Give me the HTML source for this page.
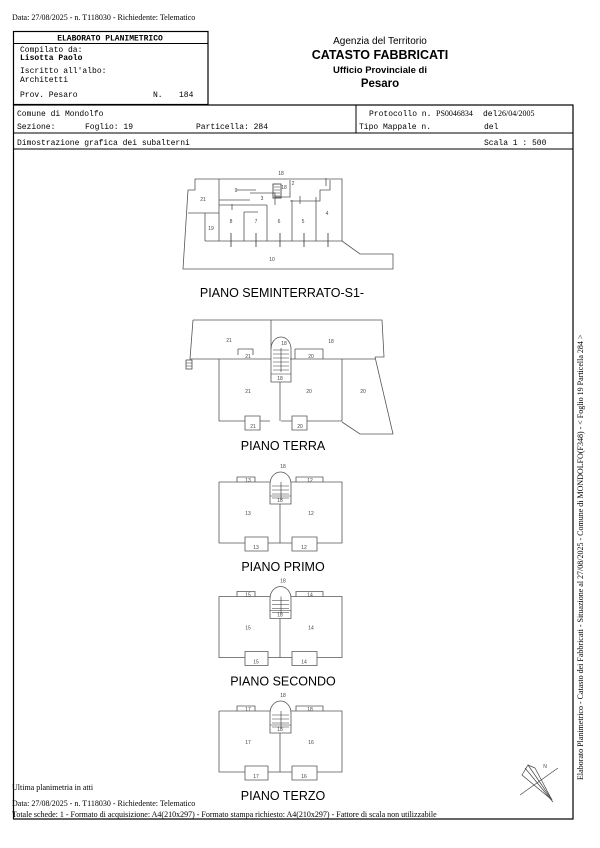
<!DOCTYPE html>
<html><head><meta charset="utf-8"><style>
html,body{margin:0;padding:0;background:#fff;}
svg{display:block}
.m{font-family:"Liberation Mono",monospace;font-size:8px;fill:#000}
.s{font-family:"Liberation Serif",serif;font-size:8px;fill:#000}
.a{font-family:"Liberation Sans",sans-serif;fill:#000}
.n{font-family:"Liberation Sans",sans-serif;font-size:5px;fill:#444;text-anchor:middle}
.p{fill:none;stroke:#555;stroke-width:0.8}
.l{font-family:"Liberation Sans",sans-serif;font-size:12.5px;fill:#000;text-anchor:middle}
</style></head><body>
<svg width="600" height="848" viewBox="0 0 600 848" xmlns="http://www.w3.org/2000/svg">
<text class="s" x="12" y="20">Data: 27/08/2025 - n. T118030 - Richiedente: Telematico</text>
<!-- header box -->
<rect x="13.5" y="31.5" width="194.5" height="73" fill="none" stroke="#000" stroke-width="1.2"/>
<line x1="13.5" y1="43.5" x2="208" y2="43.5" stroke="#000" stroke-width="1"/>
<text class="m" x="110" y="40.5" text-anchor="middle" font-weight="bold">ELABORATO PLANIMETRICO</text>
<text class="m" x="20" y="52">Compilato da:</text>
<text class="m" x="20" y="60" font-weight="bold">Lisotta Paolo</text>
<text class="m" x="20" y="73">Iscritto all'albo:</text>
<text class="m" x="20" y="82">Architetti</text>
<text class="m" x="20" y="97">Prov. Pesaro</text>
<text class="m" x="153" y="97">N.</text>
<text class="m" x="179" y="97">184</text>
<text class="a" x="380" y="44" font-size="10" text-anchor="middle">Agenzia del Territorio</text>
<text class="a" x="380" y="59" font-size="12.5" font-weight="bold" text-anchor="middle">CATASTO FABBRICATI</text>
<text class="a" x="380" y="73" font-size="9.5" font-weight="bold" text-anchor="middle">Ufficio Provinciale di</text>
<text class="a" x="380" y="87" font-size="11.5" font-weight="bold" text-anchor="middle">Pesaro</text>
<!-- main frame -->
<rect x="13.5" y="105" width="559.5" height="714" fill="none" stroke="#000" stroke-width="1.2"/>
<line x1="13.5" y1="133" x2="573" y2="133" stroke="#000"/>
<line x1="13.5" y1="149" x2="573" y2="149" stroke="#000"/>
<line x1="356" y1="105" x2="356" y2="133" stroke="#000"/>
<text class="m" x="17" y="116">Comune di Mondolfo</text>
<text class="m" x="17" y="129">Sezione:</text>
<text class="m" x="85" y="129">Foglio: 19</text>
<text class="m" x="196" y="129">Particella: 284</text>
<text class="m" x="369" y="116">Protocollo n.</text>
<text class="s" x="436" y="116">PS0046834</text>
<text class="m" x="483" y="116">del</text>
<text class="s" x="498" y="116">26/04/2005</text>
<text class="m" x="359" y="129">Tipo Mappale n.</text>
<text class="m" x="484" y="129">del</text>
<text class="m" x="17" y="145">Dimostrazione grafica dei subalterni</text>
<text class="m" x="484" y="145">Scala 1 : 500</text>

<!-- Seminterrato -->
<g>
<path class="p" d="M195,179 H342 V241 L360,254 H393 V269 H183 L188,190 H195 Z"/>
<path class="p" d="M205,241 H342 M205,241 V213 M188,213 H219 M219,179 V241 M244,212 V241 M267,205 V241 M292,200 V241 M316,197 V241 M219,205 H267 M244,212 H258 M219,200 H250 M250,193 H275 V205 M275,197 H290 V180 M290,201 H320 V190 H330 V180 M232,204 V210 M300,196 V204 M326,178 V186 M237,190 H256"/>
<rect x="273" y="184" width="8" height="14" fill="none" stroke="#333" stroke-width="0.8"/>
<path d="M274,187 H280 M274,190 H280 M274,193 H280 M274,196 H280" stroke="#333" stroke-width="0.6"/>
<line x1="231" y1="233" x2="231" y2="247" stroke="#333" stroke-width="0.8"/>
<line x1="256" y1="233" x2="256" y2="247" stroke="#333" stroke-width="0.8"/>
<line x1="280" y1="233" x2="280" y2="247" stroke="#333" stroke-width="0.8"/>
<line x1="304" y1="233" x2="304" y2="247" stroke="#333" stroke-width="0.8"/>
<line x1="328" y1="233" x2="328" y2="247" stroke="#333" stroke-width="0.8"/>
<text class="n" x="203" y="201">21</text><text class="n" x="236" y="192">9</text>
<text class="n" x="211" y="230">19</text><text class="n" x="231" y="223">8</text>
<text class="n" x="256" y="223">7</text><text class="n" x="279" y="223">6</text>
<text class="n" x="303" y="223">5</text><text class="n" x="327" y="215">4</text>
<text class="n" x="284" y="189">18</text><text class="n" x="293" y="185">2</text>
<text class="n" x="281" y="175">18</text><text class="n" x="262" y="200">3</text>
<text class="n" x="272" y="261">10</text>
<text class="l" x="282" y="297">PIANO SEMINTERRATO-S1-</text>
</g>

<!-- Piano terra -->
<g>
<path class="p" d="M193,320 H382 L384,357 H375 M193,320 L190,359 H271 M290,359 H375 M271,320 V349 M375,357 L393,434 H360 L342,422"/>
<path class="p" d="M219,359 V421 H245 M260,421 H270 M281,421 H292 M307,421 H342 V359 M280,382 V421 M238,349 H253 V355 M238,349 V355 M295,349 H323 V359 M295,349 V359"/>
<path class="p" d="M245,416 H260 V430 H245 Z M292,416 H307 V430 H292 Z"/>
<path class="p" d="M271,382 V349 A10,12 0 0 1 291,349 V382 Z"/>
<path d="M273,350 H289 M273,354 H289 M273,358 H289 M273,362 H289 M273,366 H289 M273,370 H289 M281,348 V372 M271,374 H291" stroke="#333" stroke-width="0.6"/>
<rect x="186" y="360" width="6" height="9" fill="none" stroke="#333" stroke-width="0.7"/>
<path d="M186,363 H192 M186,366 H192" stroke="#333" stroke-width="0.5"/>
<text class="n" x="229" y="342">21</text><text class="n" x="331" y="343">18</text>
<text class="n" x="248" y="358">21</text><text class="n" x="311" y="358">20</text>
<text class="n" x="284" y="345">18</text><text class="n" x="280" y="380">18</text>
<text class="n" x="248" y="393">21</text><text class="n" x="309" y="393">20</text>
<text class="n" x="363" y="393">20</text>
<text class="n" x="253" y="428">21</text><text class="n" x="300" y="428">20</text>
<text class="l" x="283" y="450">PIANO TERRA</text>
</g>

<!-- upper floor template: Piano primo at dy=0 -->
<defs></defs>
<g id="f1">
<path class="p" d="M219,482 H270 M291,482 H342 V543 H317 M292,543 H268 M245,543 H219 V482 M280,504 V543"/>
<path class="p" d="M237,482 V477 H255 V482 M296,482 V477 H323 V482 M245,537 H268 V551 H245 Z M292,537 H317 V551 H292 Z"/>
<path class="p" d="M270,504 V484 A10.5,12 0 0 1 291,484 V504 Z"/>
<path d="M272,486 H289 M272,490 H289 M272,494 H289 M272,498 H289 M281,482 V500 M270,496 H291" stroke="#333" stroke-width="0.6"/>
</g>
<text class="n" x="248" y="482">13</text><text class="n" x="310" y="482">12</text>
<text class="n" x="283" y="468">18</text><text class="n" x="280" y="502">18</text>
<text class="n" x="248" y="515">13</text><text class="n" x="311" y="515">12</text>
<text class="n" x="256" y="549">13</text><text class="n" x="304" y="549">12</text>
<text class="l" x="283" y="571">PIANO PRIMO</text>

<g transform="translate(0,114.5)">
<path class="p" d="M219,482 H270 M291,482 H342 V543 H317 M292,543 H268 M245,543 H219 V482 M280,504 V543"/>
<path class="p" d="M237,482 V477 H255 V482 M296,482 V477 H323 V482 M245,537 H268 V551 H245 Z M292,537 H317 V551 H292 Z"/>
<path class="p" d="M270,504 V484 A10.5,12 0 0 1 291,484 V504 Z"/>
<path d="M272,486 H289 M272,490 H289 M272,494 H289 M272,498 H289 M281,482 V500 M270,496 H291" stroke="#333" stroke-width="0.6"/>
<text class="n" x="248" y="482">15</text><text class="n" x="310" y="482">14</text>
<text class="n" x="283" y="468">18</text><text class="n" x="280" y="502">18</text>
<text class="n" x="248" y="515">15</text><text class="n" x="311" y="515">14</text>
<text class="n" x="256" y="549">15</text><text class="n" x="304" y="549">14</text>
<text class="l" x="283" y="571">PIANO SECONDO</text>
</g>

<g transform="translate(0,229)">
<path class="p" d="M219,482 H270 M291,482 H342 V543 H317 M292,543 H268 M245,543 H219 V482 M280,504 V543"/>
<path class="p" d="M237,482 V477 H255 V482 M296,482 V477 H323 V482 M245,537 H268 V551 H245 Z M292,537 H317 V551 H292 Z"/>
<path class="p" d="M270,504 V484 A10.5,12 0 0 1 291,484 V504 Z"/>
<path d="M272,486 H289 M272,490 H289 M272,494 H289 M272,498 H289 M281,482 V500 M270,496 H291" stroke="#333" stroke-width="0.6"/>
<text class="n" x="248" y="482">17</text><text class="n" x="310" y="482">18</text>
<text class="n" x="283" y="468">18</text><text class="n" x="280" y="502">18</text>
<text class="n" x="248" y="515">17</text><text class="n" x="311" y="515">16</text>
<text class="n" x="256" y="549">17</text><text class="n" x="304" y="549">16</text>
<text class="l" x="283" y="571">PIANO TERZO</text>
</g>

<!-- north arrow -->
<g stroke="#444" stroke-width="0.7" fill="none">
<line x1="520" y1="795" x2="558" y2="768"/>
<line x1="525" y1="768" x2="553" y2="802"/>
<path d="M522,775 L528,765 L535,768 L552,800 Z"/>
<line x1="528" y1="765" x2="552" y2="800"/>
</g>
<text class="n" x="545" y="768" font-size="5">N</text>

<text class="s" x="12" y="790">Ultima planimetria in atti</text>
<text class="s" x="12" y="806">Data: 27/08/2025 - n. T118030 - Richiedente: Telematico</text>
<text class="s" x="12" y="817">Totale schede: 1 - Formato di acquisizione: A4(210x297)  - Formato stampa richiesto: A4(210x297) - Fattore di scala non utilizzabile</text>

<text class="s" transform="translate(583,780) rotate(-90)">Elaborato Planimetrico - Catasto dei Fabbricati - Situazione al 27/08/2025 - Comune di MONDOLFO(F348) - &lt; Foglio 19 Particella 284 &gt;</text>
</svg>
</body></html>
